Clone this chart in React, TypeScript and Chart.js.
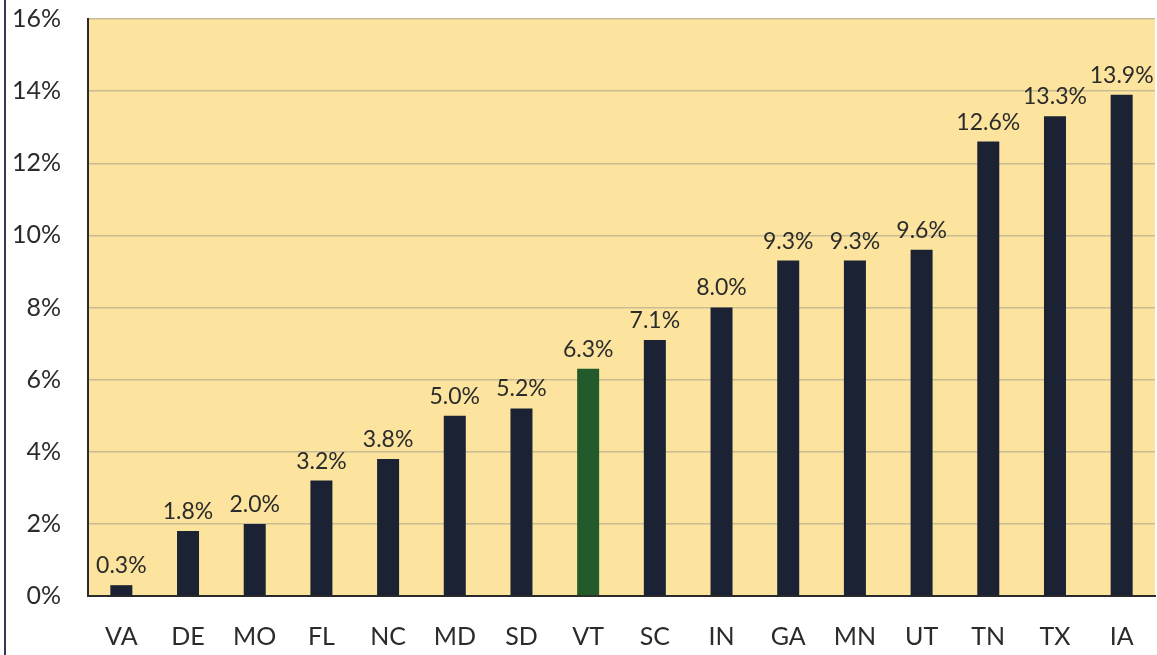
import React, { useEffect, useRef } from "react";
import { Chart, registerables } from "chart.js";

Chart.register(...registerables);

const categories = ["VA", "DE", "MO", "FL", "NC", "MD", "SD", "VT", "SC", "IN", "GA", "MN", "UT", "TN", "TX", "IA"];
const values = [0.3, 1.8, 2.0, 3.2, 3.8, 5.0, 5.2, 6.3, 7.1, 8.0, 9.3, 9.3, 9.6, 12.6, 13.3, 13.9];
const highlight = "VT";
const yTicks = [0, 2, 4, 6, 8, 10, 12, 14, 16];

const FONT = "Lato, 'Open Sans', sans-serif";

const bgPlugin = {
  id: "plotBg",
  beforeDraw(chart: any) {
    const { ctx, chartArea } = chart;
    ctx.save();
    ctx.fillStyle = "#ffffff";
    ctx.fillRect(0, 0, chart.width, chart.height);
    ctx.fillStyle = "#FCE49E";
    ctx.fillRect(chartArea.left, chartArea.top, chartArea.right - chartArea.left, chartArea.bottom - chartArea.top);
    ctx.strokeStyle = "#3a3550";
    ctx.lineWidth = 2;
    ctx.beginPath();
    ctx.moveTo(5, 0);
    ctx.lineTo(5, chart.height);
    ctx.stroke();
    ctx.restore();
  },
};

const labelPlugin = {
  id: "valueLabels",
  afterDatasetsDraw(chart: any) {
    const { ctx } = chart;
    const meta = chart.getDatasetMeta(0);
    ctx.save();
    ctx.font = `23px ${FONT}`;
    ctx.fillStyle = "#2b2b2b";
    ctx.textAlign = "center";
    ctx.textBaseline = "bottom";
    meta.data.forEach((bar: any, i: number) => {
      ctx.fillText(values[i].toFixed(1) + "%", bar.x, bar.y - 8);
    });
    ctx.restore();
  },
};

export default function App() {
  const ref = useRef<HTMLCanvasElement | null>(null);
  useEffect(() => {
    document.body.style.margin = "0";
    const chart = new Chart(ref.current!, {
      type: "bar",
      data: {
        labels: categories,
        datasets: [
          {
            data: values,
            backgroundColor: categories.map((c) => (c === highlight ? "#225A2B" : "#1B2233")),
            borderWidth: 0,
            categoryPercentage: 1,
            barPercentage: 0.33,
          },
        ],
      },
      options: {
        responsive: false,
        animation: false,
        layout: { padding: { top: 19, right: 2, left: 0, bottom: 0 } },
        plugins: { legend: { display: false }, tooltip: { enabled: false } },
        scales: {
          x: {
            grid: { display: false, drawTicks: true, tickLength: 26, tickColor: "rgba(0,0,0,0)" },
            border: { display: true, color: "#2a2a2a", width: 2 },
            ticks: { font: { family: FONT, size: 25 }, color: "#2b2b2b", padding: 0 },
            afterFit: (s: any) => {
              s.height = 59;
            },
          },
          y: {
            min: 0,
            max: 16,
            afterBuildTicks: (s: any) => {
              s.ticks = yTicks.map((v) => ({ value: v }));
            },
            grid: { color: "#C9BC94", lineWidth: 1.5, drawTicks: true, tickLength: 27, tickColor: "rgba(0,0,0,0)" },
            border: { display: true, color: "#2a2a2a", width: 2 },
            ticks: {
              font: { family: FONT, size: 25 },
              color: "#2b2b2b",
              padding: 0,
              callback: (v: any) => v + "%",
            },
            afterFit: (s: any) => {
              s.width = 88;
            },
          },
        },
      },
      plugins: [bgPlugin, labelPlugin],
    });
    return () => chart.destroy();
  }, []);
  return (
    <div style={{ position: "fixed", left: 0, top: 0, width: 1157, height: 655 }}>
      <canvas ref={ref} width={1157} height={655} style={{ display: "block" }} />
    </div>
  );
}
